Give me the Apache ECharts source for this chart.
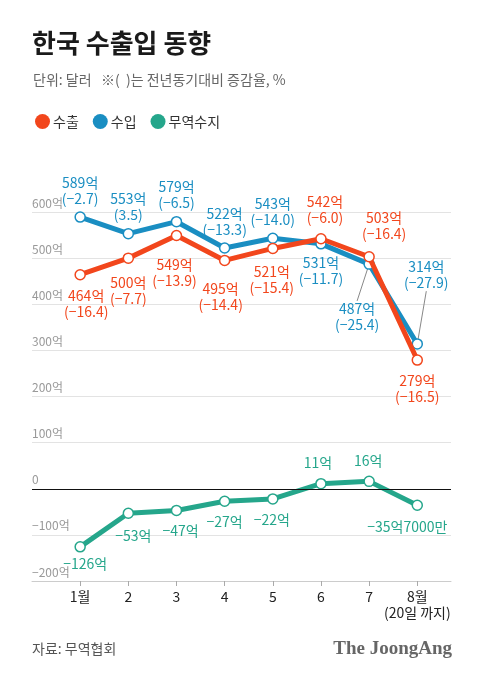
<!DOCTYPE html>
<html><head><meta charset="utf-8">
<script src="https://cdn.jsdelivr.net/npm/echarts@6/dist/echarts.min.js"></script>
<style>html,body{margin:0;padding:0;background:#fff}#c{width:480px;height:679px}</style>
</head><body><div id="c"></div>
<script>
const months = ['1월','2','3','4','5','6','7','8월\n(20일 까지)'];
const exportsVal = [464, 500, 549, 495, 521, 542, 503, 279];
const exportsChg = [-16.4, -7.7, -13.9, -14.4, -15.4, -6.0, -16.4, -16.5];
const importsVal = [589, 553, 579, 522, 543, 531, 487, 314];
const importsChg = [-2.7, 3.5, -6.5, -13.3, -14.0, -11.7, -25.4, -27.9];
const balanceVal = [-126, -53, -47, -27, -22, 11, 16, -35.7];

// label placement (style only)
const expPos = [['bottom',[6,2]],['bottom',[0,6]],['bottom',[-2,10]],['bottom',[-4,10]],['bottom',[-1,4]],['top',[4,-2]],['top',[15,-4]],['bottom',[0,2]]];
const impPos = [['top',[4,-4]],['top',[-2,-2]],['top',[1,-2]],['top',[7,-6]],['top',[3,-5]],['bottom',[-3,6]],['bottom',[0,0]],['top',[0,0]]];
const impMove = { 6: { dx: -12, dy: 26 }, 7: { dx: 9, dy: -42 } };
const balPos = [['bottom',[5,-2]],['bottom',[5,4]],['bottom',[4,2]],['bottom',[0,2]],['bottom',[-1,2]],['top',[-3,-2]],['top',[-1,-2]],['bottom',[-10,3]]];

const FONT = '"Noto Sans CJK KR", sans-serif';
const C_EXP = '#f2461c', C_IMP = '#1a8ec2', C_BAL = '#25a68b';
const minus = s => String(s).replace('-', '−');
const fmtChg = v => '(' + minus(v.toFixed(1)) + ')';
const fmtBal = v => {
  if (Number.isInteger(v)) return minus(v) + '억';
  const i = Math.trunc(v);
  const man = Math.round(Math.abs(v - i) * 10000);
  return minus(i) + '억' + man + '만';
};

function mk(vals, pos, fmt) {
  return vals.map((v, i) => ({
    value: [i + 1, v],
    label: { position: pos[i][0], offset: pos[i][1], formatter: fmt(i) }
  }));
}

const lbl = (color) => ({ show: true, color: color, fontFamily: FONT, fontSize: 14, lineHeight: 16, distance: 5 });

const chart = echarts.init(document.getElementById('c'), null, { renderer: 'canvas' });
chart.setOption({
  animation: false,
  backgroundColor: '#fff',
  textStyle: { fontFamily: FONT },
  graphic: [
    { type: 'text', left: 32, top: 30, style: { text: '한국 수출입 동향', font: 'bold 26px ' + FONT, fill: '#1a1a1a' } },
    { type: 'text', left: 33, top: 73, style: { text: '단위: 달러   ※(  )는 전년동기대비 증감율, %', font: '14px ' + FONT, fill: '#666' } },
    { type: 'text', left: 32, top: 642, style: { text: '자료: 무역협회', font: '14px ' + FONT, fill: '#555' } },
    { type: 'text', right: 28, top: 640, style: { text: 'The JoongAng', font: 'bold 19px "Liberation Serif", serif', fill: '#666' } }
  ],
  legend: {
    left: 30, top: 109, icon: 'circle', itemWidth: 15, itemHeight: 15, itemGap: 14,
    textStyle: { fontFamily: FONT, fontSize: 14, color: '#333', padding: [0,0,0,-2] },
    data: [
      { name: '수출', itemStyle: { color: C_EXP, borderWidth: 0 } },
      { name: '수입', itemStyle: { color: C_IMP, borderWidth: 0 } },
      { name: '무역수지', itemStyle: { color: C_BAL, borderWidth: 0 } }
    ]
  },
  grid: { left: 32, right: 29, top: 212, bottom: 98, containLabel: false },
  xAxis: {
    type: 'value', min: 0, max: 8.7,
    axisLine: { show: true, onZero: false, lineStyle: { color: '#ccc' } },
    axisTick: { show: true, length: 5, lineStyle: { color: '#aaa' }, customValues: [1,2,3,4,5,6,7,8] },
    axisLabel: { customValues: [1,2,3,4,5,6,7,8], formatter: v => months[v - 1], color: '#222', fontSize: 14, lineHeight: 16, fontFamily: FONT, margin: 8, verticalAlign: 'top' },
    splitLine: { show: false }
  },
  yAxis: {
    type: 'value', min: -200, max: 600, interval: 100,
    axisLine: { show: false }, axisTick: { show: false },
    axisLabel: { inside: true, margin: 0, verticalAlign: 'bottom', padding: [0,0,3,0], color: '#999', fontSize: 12, fontFamily: FONT,
      formatter: v => v === 0 ? '0' : minus(v) + '억' },
    splitLine: { show: true, lineStyle: { color: '#e3e3e3', width: 1 } }
  },
  series: [
    {
      name: '무역수지', type: 'line', color: C_BAL, z: 3,
      lineStyle: { width: 5, color: C_BAL },
      symbol: 'circle', symbolSize: 10, itemStyle: { color: '#fff', borderColor: C_BAL, borderWidth: 1.5 },
      label: lbl(C_BAL),
      data: mk(balanceVal, balPos, i => fmtBal(balanceVal[i])),
      markLine: { silent: true, symbol: 'none', label: { show: false }, lineStyle: { color: '#111', width: 1, type: 'solid' }, data: [{ yAxis: 0 }] }
    },
    {
      name: '수입', type: 'line', color: C_IMP, z: 4,
      lineStyle: { width: 5, color: C_IMP },
      symbol: 'circle', symbolSize: 10, itemStyle: { color: '#fff', borderColor: C_IMP, borderWidth: 1.5 },
      label: lbl(C_IMP),
      labelLine: { show: false },
      labelLayout: p => impMove[p.dataIndex] || {},
      data: mk(importsVal, impPos, i => importsVal[i] + '억\n' + fmtChg(importsChg[i])).map((d, i) => {
        if (impMove[i]) d.labelLine = { show: true, length2: 0, lineStyle: { color: '#888', width: 1 } };
        return d;
      })
    },
    {
      name: '수출', type: 'line', color: C_EXP, z: 5,
      lineStyle: { width: 5, color: C_EXP },
      symbol: 'circle', symbolSize: 10, itemStyle: { color: '#fff', borderColor: C_EXP, borderWidth: 1.5 },
      label: lbl(C_EXP),
      data: mk(exportsVal, expPos, i => exportsVal[i] + '억\n' + fmtChg(exportsChg[i]))
    }
  ]
});
</script></body></html>
